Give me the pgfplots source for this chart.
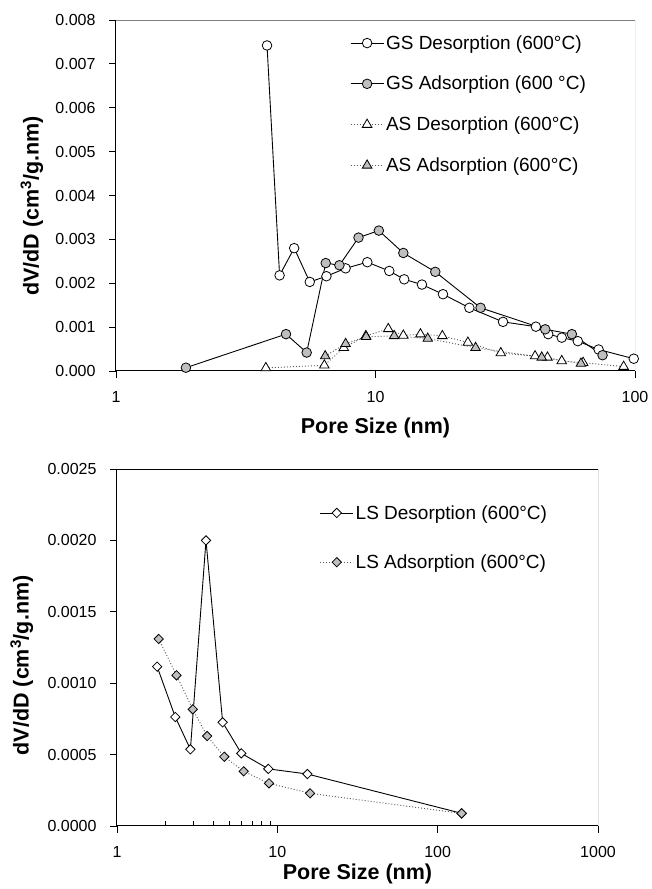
\documentclass[border=0pt]{standalone}
\usepackage{pgfplots}
\pgfplotsset{compat=1.18}
\usepackage{fontspec}
\setmainfont{Liberation Sans}
\definecolor{mgray}{gray}{0.75}
\definecolor{dgray}{gray}{0.35}
\pgfplotsset{
  common/.style={
    scale only axis,
    scaled y ticks=false,
    axis x line*=bottom, axis y line*=left,
    axis line style={black, line width=1pt},
    tick align=outside, major tick length=7pt,
    tick style={black, line width=0.8pt},
    xminorticks=false,
    ticklabel style={font=\fontsize{16}{19}\selectfont},
    xticklabel style={yshift=-10pt},
    yticklabel style={xshift=-10pt},
    label style={font=\fontsize{21.5}{25}\selectfont\bfseries},
    legend cell align=left,
    legend style={draw=none, fill=none, font=\fontsize{19}{22}\selectfont, anchor=north west,
      /tikz/every even column/.append style={column sep=3pt}},
    legend image code/.code={\draw[mark repeat=2,mark phase=2] plot coordinates {(0pt,0pt) (16.5pt,0pt) (33pt,0pt)};},
  },
  solidser/.style={black, line width=0.9pt},
  dotser/.style={dgray, line width=0.9pt, dash pattern=on 1pt off 2pt},
}
\begin{document}
\begin{tikzpicture}[x=1pt,y=1pt]
\useasboundingbox (0,0) rectangle (652,889);
\begin{semilogxaxis}[common,
  at={(116pt,518pt)}, anchor=south west,
  width=519pt, height=351pt,
  xmin=1, xmax=100, ymin=0, ymax=0.008,
  xtick={1,10,100}, xticklabels={1,10,100},
  ytick={0,0.001,0.002,0.003,0.004,0.005,0.006,0.007,0.008},
  yticklabels={0.000,0.001,0.002,0.003,0.004,0.005,0.006,0.007,0.008},
  xlabel={Pore Size (nm)},
  ylabel={dV/dD (cm\textsuperscript{3}/g.nm)},
  xlabel style={at={(axis description cs:0.5,-0.162)}, anchor=center},
  ylabel style={at={(axis description cs:-0.162,0.47)}, anchor=center},
  legend style={at={(axis description cs:0.445,0.968)}, row sep=21.5pt},
]
\draw[gray, line width=0.8pt] (rel axis cs:0,1) -- (rel axis cs:1,1) -- (rel axis cs:1,0);
\addplot[solidser, mark=*, mark size=4.8pt, mark options={solid, draw=black, line width=0.8pt, fill=white}] coordinates {
(3.82,0.00742) (4.27,0.00218) (4.86,0.00280) (5.58,0.00203) (6.47,0.00216)
(7.67,0.00234) (9.3,0.00248) (11.3,0.00228) (12.9,0.00209) (15.1,0.00197)
(18.2,0.00175) (23.0,0.00144) (31.0,0.00112) (41.5,0.00101) (46.3,0.00084)
(52.2,0.00076) (60.2,0.00068) (72.4,0.00049) (98.9,0.00028)};
\addlegendentry{GS Desorption (600°C)}
\addplot[solidser, mark=*, mark size=4.8pt, mark options={solid, draw=black, line width=0.8pt, fill=mgray}] coordinates {
(1.86,0.000075) (4.52,0.00084) (5.43,0.00042) (6.43,0.00246) (7.26,0.00241)
(8.6,0.00304) (10.3,0.00320) (12.8,0.00269) (17.0,0.00226) (25.4,0.00144)
(45.1,0.00095) (57.1,0.00084) (75.0,0.00036)};
\addlegendentry{GS Adsorption (600 °C)}
\addplot[dotser, mark=triangle*, mark size=5.5pt, mark options={solid, draw=black, line width=0.8pt, fill=white}] coordinates {
(3.78,0.00007) (6.35,0.00013) (7.55,0.00053) (9.18,0.00080) (11.2,0.00096)
(12.8,0.00081) (14.9,0.00084) (18.1,0.00080) (22.7,0.00065) (30.4,0.00041)
(41.2,0.00034) (46.0,0.00031) (52.2,0.00023) (63.1,0.00019) (90.4,0.00010)};
\addlegendentry{AS Desorption (600°C)}
\addplot[dotser, mark=triangle*, mark size=5.5pt, mark options={solid, draw=black, line width=0.8pt, fill=mgray}] coordinates {
(6.4,0.00034) (7.67,0.00062) (9.2,0.00078) (11.8,0.00080) (15.9,0.00074)
(24.3,0.00053) (43.7,0.00031) (61.9,0.00017)};
\addlegendentry{AS Adsorption (600°C)}
\end{semilogxaxis}

\begin{semilogxaxis}[common,
  at={(117pt,63pt)}, anchor=south west,
  width=481pt, height=357pt,
  xmin=1, xmax=1000, ymin=0, ymax=0.0025,
  xtick={1,10,100,1000}, xticklabels={1,10,100,1000},
  extra x ticks={2,3,4,5,6,7,8,9}, extra x tick labels={},
  extra x tick style={tick align=inside, major tick length=5pt},
  ytick={0,0.0005,0.001,0.0015,0.002,0.0025},
  yticklabels={0.0000,0.0005,0.0010,0.0015,0.0020,0.0025},
  xlabel={Pore Size (nm)},
  ylabel={dV/dD (cm\textsuperscript{3}/g.nm)},
  xlabel style={at={(axis description cs:0.5,-0.135)}, anchor=center},
  ylabel style={at={(axis description cs:-0.198,0.45)}, anchor=center},
  legend style={at={(axis description cs:0.415,0.91)}, row sep=30pt},
]
\draw[black, line width=0.8pt] (rel axis cs:0,1) -- (rel axis cs:1,1) -- (rel axis cs:1,0);
\addplot[solidser, mark=square*, mark size=3.3pt, mark options={solid, draw=black, line width=0.8pt, fill=white, rotate=45}] coordinates {
(1.78,0.001116) (2.31,0.000763) (2.87,0.000537) (3.59,0.00200) (4.56,0.000726)
(5.96,0.000509) (8.79,0.00040) (15.4,0.000364) (141,0.000089)};
\addlegendentry{LS Desorption (600°C)}
\addplot[dotser, mark=square*, mark size=3.3pt, mark options={solid, draw=black, line width=0.8pt, fill=mgray, rotate=45}] coordinates {
(1.82,0.00131) (2.35,0.001055) (2.97,0.000817) (3.65,0.00063) (4.67,0.000485)
(6.17,0.000383) (8.87,0.000299) (16.0,0.000229) (141,0.000088)};
\addlegendentry{LS Adsorption (600°C)}
\end{semilogxaxis}
\end{tikzpicture}
\end{document}
